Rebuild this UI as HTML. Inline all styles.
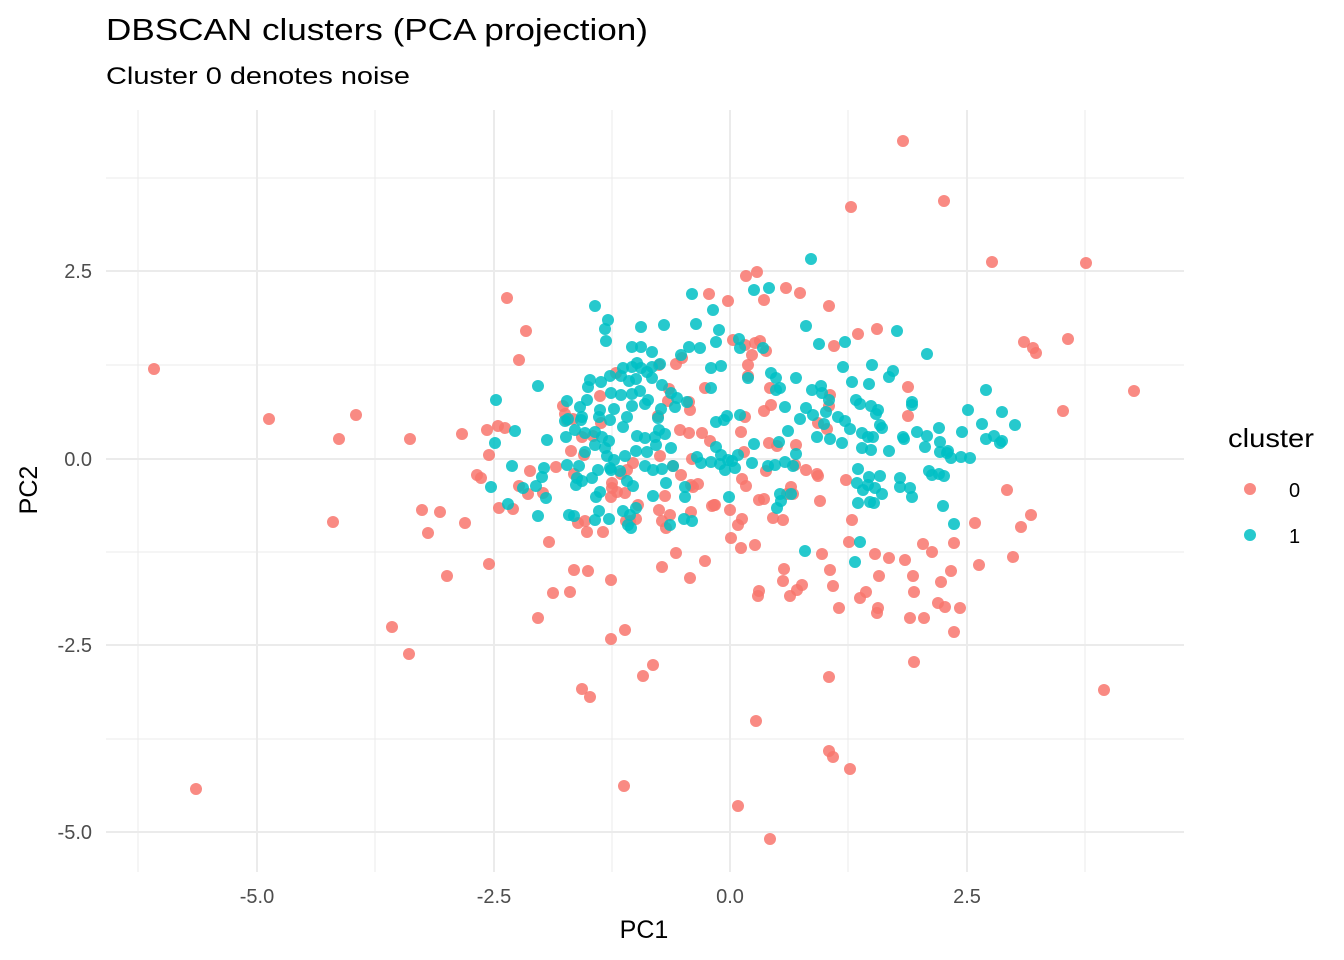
<!DOCTYPE html>
<html><head><meta charset="utf-8"><style>html,body{margin:0;padding:0;background:#fff;}svg{display:block;font-family:"Liberation Sans",sans-serif;}</style></head>
<body>
<svg id="s" width="1344" height="960" xmlns="http://www.w3.org/2000/svg">
<rect width="1344" height="960" fill="#fff"/>
<g stroke="#ebebeb" stroke-width="1">
<line x1="138" y1="110" x2="138" y2="872"/><line x1="375" y1="110" x2="375" y2="872"/><line x1="612" y1="110" x2="612" y2="872"/><line x1="848" y1="110" x2="848" y2="872"/><line x1="1085" y1="110" x2="1085" y2="872"/>
<line x1="106" y1="178" x2="1184" y2="178"/><line x1="106" y1="365" x2="1184" y2="365"/><line x1="106" y1="552" x2="1184" y2="552"/><line x1="106" y1="739" x2="1184" y2="739"/>
</g>
<g stroke="#ebebeb" stroke-width="2">
<line x1="257" y1="110" x2="257" y2="872"/><line x1="494" y1="110" x2="494" y2="872"/><line x1="730" y1="110" x2="730" y2="872"/><line x1="967" y1="110" x2="967" y2="872"/>
<line x1="106" y1="271" x2="1184" y2="271"/><line x1="106" y1="459" x2="1184" y2="459"/><line x1="106" y1="645" x2="1184" y2="645"/><line x1="106" y1="832" x2="1184" y2="832"/>
</g>
<g id="pts"></g>
<g fill="#4d4d4d" font-size="20">
<text x="257" y="903" text-anchor="middle">-5.0</text><text x="494" y="903" text-anchor="middle">-2.5</text><text x="730" y="903" text-anchor="middle">0.0</text><text x="967" y="903" text-anchor="middle">2.5</text>
<text x="92" y="278" text-anchor="end">2.5</text><text x="92" y="466" text-anchor="end">0.0</text><text x="92" y="652" text-anchor="end">-2.5</text><text x="92" y="839" text-anchor="end">-5.0</text>
</g>
<text x="644" y="938" text-anchor="middle" font-size="25">PC1</text>
<text transform="translate(37,490) rotate(-90)" text-anchor="middle" font-size="25">PC2</text>
<text x="106" y="40" font-size="31" textLength="542" lengthAdjust="spacingAndGlyphs">DBSCAN clusters (PCA projection)</text>
<text x="106" y="84" font-size="24" textLength="304" lengthAdjust="spacingAndGlyphs">Cluster 0 denotes noise</text>
<text x="1228" y="447" font-size="26" textLength="86" lengthAdjust="spacingAndGlyphs">cluster</text>
<circle cx="1250" cy="489" r="6" fill="#F8766D" fill-opacity="0.85"/>
<circle cx="1250" cy="535" r="6" fill="#00BFC4" fill-opacity="0.85"/>
<text x="1289" y="497" font-size="20">0</text>
<text x="1289" y="543" font-size="20">1</text>
</svg>
<script>
var R=[903,141,944,201,851,207,992,262,1086,263,757,272,746,276,709,294,728,301,764,300,786,288,800,293,507,298,526,331,829,306,1024,342,1068,339,1033,348,1036,353,858,334,877,329,834,346,519,360,154,369,1134,391,269,419,356,415,339,439,410,439,1063,411,462,434,487,430,505,428,477,475,489,455,333,522,422,510,440,512,428,533,465,523,499,508,513,509,549,542,447,576,489,564,553,593,570,592,574,570,588,571,538,618,392,627,409,654,611,639,653,665,643,676,582,689,590,697,196,789,624,786,738,806,770,839,756,721,829,751,833,757,850,769,829,677,914,662,1104,690,1007,490,975,523,979,565,1021,527,1013,557,1031,515,954,543,951,571,941,582,932,552,923,544,905,560,913,576,914,592,945,607,938,603,960,608,910,618,924,618,954,632,875,554,889,558,879,576,866,592,860,598,878,608,877,613,839,608,833,586,822,554,830,570,852,520,849,542,784,569,783,581,759,591,758,596,790,596,797,590,802,585,817,474,806,470,787,494,783,520,773,518,793,494,791,487,795,465,759,500,764,499,746,486,742,479,715,505,712,506,731,538,738,525,741,548,755,545,730,510,742,519,698,484,693,487,692,459,710,441,689,433,680,430,702,433,690,410,689,402,669,389,668,401,658,416,665,496,659,510,670,515,662,521,666,528,676,553,662,567,690,578,705,561,714,505,691,485,691,512,638,505,625,493,636,519,630,521,626,521,617,492,612,488,611,497,603,532,585,521,578,523,584,455,593,436,601,423,565,414,573,419,567,420,582,437,616,373,659,365,705,388,676,364,682,358,748,365,748,376,745,345,752,355,733,340,755,343,760,341,766,351,770,388,771,405,745,417,764,411,741,432,777,446,766,471,796,445,827,429,818,423,829,406,846,480,818,476,820,501,908,416,908,387,830,395,769,443,744,452,681,475,673,466,660,456,633,463,627,470,621,474,612,483,574,474,556,467,519,486,528,494,543,493,530,471,563,406,600,396,571,451,498,426,481,478,587,532,611,580,625,630];
var T=[811,259,754,290,769,288,692,294,713,310,595,306,608,320,605,329,606,341,641,327,664,325,696,324,719,330,700,348,689,347,716,342,739,339,740,348,763,348,776,378,796,378,771,373,748,378,780,388,806,326,819,344,845,342,897,331,927,354,843,367,872,365,889,377,893,371,852,382,869,384,856,400,860,404,871,406,822,393,829,400,821,386,812,390,806,408,813,415,826,412,824,424,838,417,845,421,850,429,842,443,830,439,817,437,800,419,785,407,776,390,862,433,868,437,882,428,876,414,878,410,880,425,873,437,862,448,871,450,858,469,857,483,863,490,869,477,875,488,880,476,882,494,870,502,858,503,874,503,860,542,855,562,904,439,903,437,912,405,912,402,917,432,927,436,939,428,925,447,940,442,940,452,947,453,962,432,968,410,986,390,982,424,986,439,1002,412,1015,425,994,436,1000,443,970,458,961,457,951,458,932,475,939,474,944,476,929,471,948,451,900,478,900,487,910,488,912,497,943,506,954,524,868,485,889,451,1002,441,775,465,779,442,788,431,796,454,793,466,785,462,768,466,754,444,752,463,728,460,716,447,716,422,724,420,740,415,727,416,720,464,732,461,738,455,735,468,721,455,711,462,725,470,729,497,780,494,781,501,777,508,791,494,653,496,685,497,685,487,666,483,673,466,671,448,656,445,659,430,658,418,661,409,675,407,677,398,671,393,662,385,652,378,647,372,637,363,652,352,641,347,632,347,623,368,632,367,641,368,652,367,660,364,636,379,629,381,621,376,610,376,601,382,590,380,588,387,580,407,587,400,600,410,599,417,610,420,614,409,611,393,621,395,632,394,640,391,632,406,645,404,648,400,627,417,623,427,637,436,645,438,655,437,665,434,687,402,711,388,711,368,721,366,681,355,582,417,568,419,575,430,581,420,585,433,595,432,602,437,609,441,605,448,607,456,595,445,585,452,579,466,577,478,576,485,582,481,592,478,598,470,610,468,620,471,614,460,625,456,636,451,647,452,645,466,653,470,662,469,633,486,596,497,600,492,611,470,627,481,599,511,595,520,574,516,569,515,609,519,623,511,628,525,630,515,636,508,546,498,536,486,544,468,547,440,566,437,565,421,567,401,538,386,496,400,515,431,495,443,491,487,508,504,523,488,542,477,538,516,512,466,567,465,631,528,670,525,684,519,692,521,697,457,701,463,805,551];
var g=document.getElementById('pts'),h='';
function add(a,c){for(var i=0;i<a.length;i+=2)h+='<circle cx="'+a[i]+'" cy="'+a[i+1]+'" r="6" fill="'+c+'" fill-opacity="0.85"/>';}
add(R,'#F8766D');add(T,'#00BFC4');g.innerHTML=h;
</script>
</body></html>
